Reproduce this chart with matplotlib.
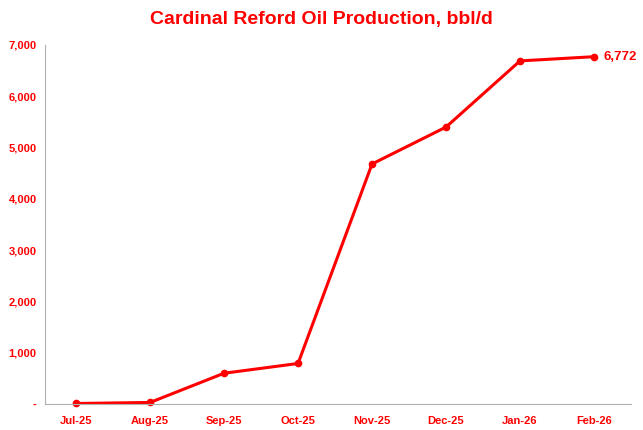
import matplotlib.pyplot as plt
from matplotlib.ticker import FuncFormatter

plt.rcParams['font.family'] = ['Liberation Sans', 'DejaVu Sans']

months = ["Jul-25", "Aug-25", "Sep-25", "Oct-25", "Nov-25", "Dec-25", "Jan-26", "Feb-26"]
production = [10, 30, 600, 790, 4680, 5400, 6690, 6772]

red = "#ff0000"

fig = plt.figure(figsize=(6.43, 4.30), dpi=100)
ax = fig.add_axes([45 / 643, 1 - 404 / 430, (631 - 45) / 643, (404 - 45) / 430])

x = list(range(len(months)))
ax.plot(x, production, color=red, lw=2.2, marker="o", ms=4.5, clip_on=False)
ax.annotate(f"{production[-1]:,}", (x[-1], production[-1]), xytext=(7, 0),
            textcoords="offset points", va="center", color=red,
            fontweight="bold", fontsize=9.5)

ax.set_xlim(-0.42, 7.5)
ax.set_ylim(0, 7000)
ax.set_xticks(x)
ax.set_xticklabels(months)
ax.set_yticks(range(0, 7001, 1000))
ax.yaxis.set_major_formatter(FuncFormatter(lambda v, p: "-" if v == 0 else f"{int(v):,}"))
for lab in ax.get_xticklabels() + ax.get_yticklabels():
    lab.set_color(red)
    lab.set_fontweight("bold")
    lab.set_fontsize(8)
ax.tick_params(length=0, pad=6)
ax.tick_params(axis="x", pad=9)
for s in ["top", "right"]:
    ax.spines[s].set_visible(False)
for s in ["left", "bottom"]:
    ax.spines[s].set_color("#b0b0b0")

fig.suptitle("Cardinal Reford Oil Production, bbl/d", y=0.975, color=red,
             fontweight="bold", fontsize=14)
fig.savefig("out.png", dpi=100)
